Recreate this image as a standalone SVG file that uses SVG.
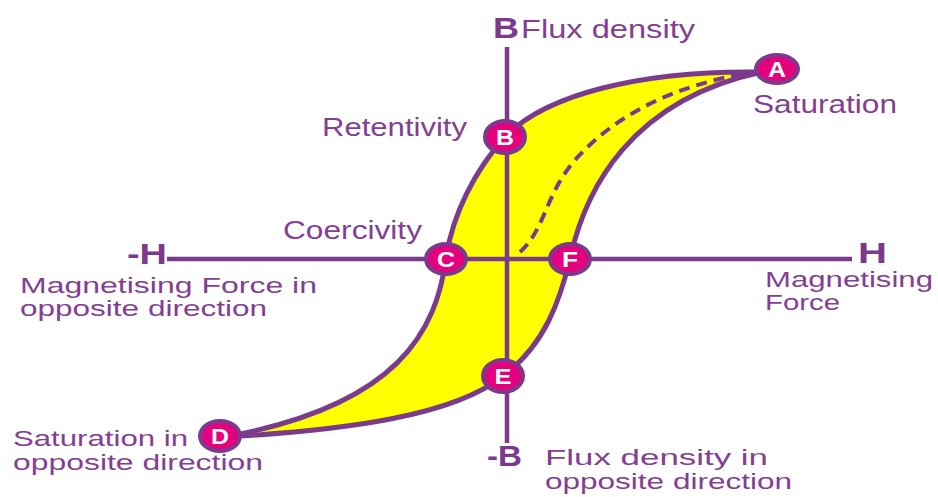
<svg xmlns="http://www.w3.org/2000/svg" width="938" height="497" viewBox="0 0 938 497">
<style>
.t{font-family:"Liberation Sans",Arial,sans-serif;font-size:25px;fill:#833f92;}
.t2{font-family:"Liberation Sans",Arial,sans-serif;font-size:22px;fill:#833f92;}
.tb{font-family:"Liberation Sans",Arial,sans-serif;font-size:29px;font-weight:bold;fill:#7b3a8c;}
.ax{stroke:#7b3a8c;stroke-width:4.5;fill:none;}
.cv{stroke:#7b3a8c;stroke-width:5;fill:none;stroke-linecap:round;}
.dash{stroke:#7b3a8c;stroke-width:4;fill:none;stroke-dasharray:11 7;}
.nd{fill:#e5007d;stroke:#7b3a8c;stroke-width:4;}
.nl{font-family:"Liberation Sans",Arial,sans-serif;font-size:22px;font-weight:bold;fill:#ffffff;text-anchor:middle;}
</style>
<rect width="938" height="497" fill="#ffffff"/>
<g id="loop-fill">
<path d="M 762 72 C 640 70, 545 95, 505 137 C 475 170, 452 215, 446 259 C 436 330, 400 405, 225 437 C 350 430, 455 415, 503 376 C 545 345, 560 300, 570 259 C 585 190, 630 100, 762 72 Z" fill="#ffff00"/>
</g>
<g id="connectors">
<line class="ax" x1="507" y1="47" x2="507" y2="443"/>
<line class="ax" x1="167" y1="259" x2="852" y2="259"/>
<path class="dash" d="M 520 252 C 545 230, 545 195, 575 160 C 620 110, 680 85, 752 72"/>
<path class="cv" d="M 762 72 C 640 70, 545 95, 505 137 C 475 170, 452 215, 446 259 C 436 330, 400 405, 225 437"/>
<path class="cv" d="M 225 437 C 350 430, 455 415, 503 376 C 545 345, 560 300, 570 259 C 585 190, 630 100, 762 72"/>
</g>
<g id="node-A"><ellipse class="nd" cx="777" cy="69" rx="21" ry="14"/><text class="nl" x="777" y="77" textLength="18" lengthAdjust="spacingAndGlyphs">A</text></g>
<g id="node-B"><ellipse class="nd" cx="505" cy="137" rx="20" ry="16"/><text class="nl" x="505" y="145" textLength="18" lengthAdjust="spacingAndGlyphs">B</text></g>
<g id="node-C"><ellipse class="nd" cx="446" cy="259" rx="20" ry="15"/><text class="nl" x="446" y="267" textLength="18" lengthAdjust="spacingAndGlyphs">C</text></g>
<g id="node-F"><ellipse class="nd" cx="570" cy="259" rx="20" ry="15"/><text class="nl" x="570" y="267" textLength="16" lengthAdjust="spacingAndGlyphs">F</text></g>
<g id="node-E"><ellipse class="nd" cx="503" cy="376" rx="20" ry="16"/><text class="nl" x="503" y="384" textLength="17" lengthAdjust="spacingAndGlyphs">E</text></g>
<g id="node-D"><ellipse class="nd" cx="220" cy="436" rx="20" ry="15"/><text class="nl" x="220" y="444" textLength="18" lengthAdjust="spacingAndGlyphs">D</text></g>
<g id="labels">
<text class="tb" x="493" y="38" textLength="26" lengthAdjust="spacingAndGlyphs">B</text>
<text class="t" x="521" y="38" textLength="174" lengthAdjust="spacingAndGlyphs">Flux density</text>
<text class="t" x="322" y="136" textLength="145" lengthAdjust="spacingAndGlyphs">Retentivity</text>
<text class="t" x="753" y="113" textLength="144" lengthAdjust="spacingAndGlyphs">Saturation</text>
<text class="t" x="283" y="239" textLength="139" lengthAdjust="spacingAndGlyphs">Coercivity</text>
<text class="tb" x="127" y="264" textLength="40" lengthAdjust="spacingAndGlyphs">-H</text>
<text class="tb" x="858" y="263" textLength="29" lengthAdjust="spacingAndGlyphs">H</text>
<text class="t2" x="20" y="293" textLength="297" lengthAdjust="spacingAndGlyphs">Magnetising Force in</text>
<text class="t2" x="20" y="316" textLength="247" lengthAdjust="spacingAndGlyphs">opposite direction</text>
<text class="t2" x="765" y="287" textLength="168" lengthAdjust="spacingAndGlyphs">Magnetising</text>
<text class="t2" x="765" y="310" textLength="75" lengthAdjust="spacingAndGlyphs">Force</text>
<text class="t2" x="13" y="446" textLength="175" lengthAdjust="spacingAndGlyphs">Saturation in</text>
<text class="t2" x="13" y="470" textLength="250" lengthAdjust="spacingAndGlyphs">opposite direction</text>
<text class="tb" x="487" y="466" textLength="35" lengthAdjust="spacingAndGlyphs">-B</text>
<text class="t2" x="545" y="465" textLength="223" lengthAdjust="spacingAndGlyphs">Flux density in</text>
<text class="t2" x="545" y="489" textLength="247" lengthAdjust="spacingAndGlyphs">opposite direction</text>
</g>
</svg>
